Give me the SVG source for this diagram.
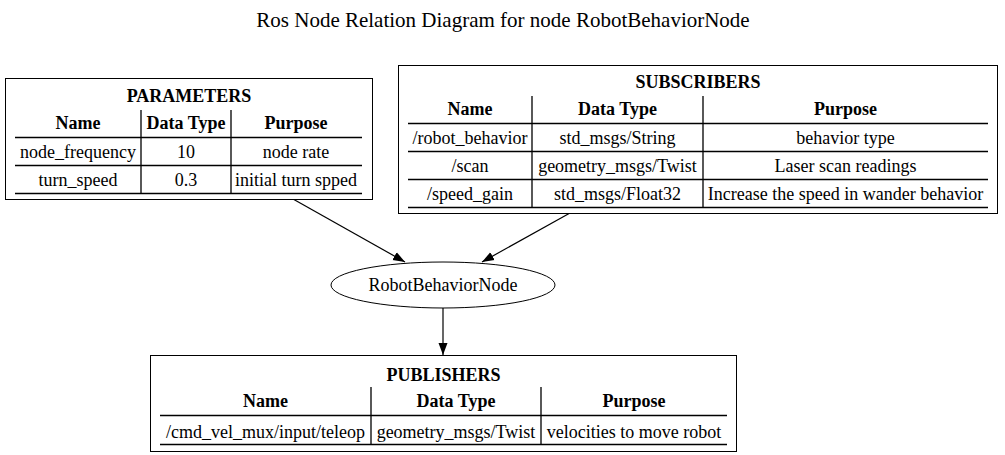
<svg xmlns="http://www.w3.org/2000/svg" width="1005" height="455" viewBox="0 0 1005 455">
<style>
text{font-family:"Liberation Serif","Times New Roman",serif;font-size:18px;fill:#000;text-anchor:middle}
.b{font-weight:bold}
.t{font-size:21px}
.box{fill:#fff;stroke:#000;stroke-width:1}
.ln{stroke:#000;stroke-width:1.3;fill:none}
.edge{stroke:#000;stroke-width:1.2;fill:none}
</style>
<defs>
<marker id="arr" viewBox="0 0 12 10" refX="12" refY="5" markerWidth="12" markerHeight="10" markerUnits="userSpaceOnUse" orient="auto">
<path d="M0,0.5 L12,5 L0,9.5 z" fill="#000"/>
</marker>
</defs>
<rect width="1005" height="455" fill="#fff"/>
<text class="t" x="503" y="27">Ros Node Relation Diagram for node RobotBehaviorNode</text>
<g id="connectors">
<line class="edge" x1="293" y1="199" x2="405" y2="262" marker-end="url(#arr)"/>
<line class="edge" x1="570" y1="213" x2="482" y2="262" marker-end="url(#arr)"/>
<line class="edge" x1="443" y1="308" x2="443" y2="355" marker-end="url(#arr)"/>
</g>
<g id="parameters">
<rect class="box" x="5.5" y="78.5" width="367" height="121"/>
<text class="b" x="189" y="102">PARAMETERS</text>
<text class="b" x="78" y="129">Name</text>
<text class="b" x="186" y="129">Data Type</text>
<text class="b" x="296" y="129">Purpose</text>
<path class="ln" d="M15,137.5H362M15,165.5H362M15,193.5H362M141,110V193M231,110V193"/>
<text x="78" y="158">node_frequency</text>
<text x="186" y="158">10</text>
<text x="296" y="158">node rate</text>
<text x="78" y="186">turn_speed</text>
<text x="186" y="186">0.3</text>
<text x="296" y="186">initial turn spped</text>
</g>
<g id="subscribers">
<rect class="box" x="398.5" y="65.5" width="599" height="148"/>
<text class="b" x="698" y="88">SUBSCRIBERS</text>
<text class="b" x="470" y="115">Name</text>
<text class="b" x="617.5" y="115">Data Type</text>
<text class="b" x="845.5" y="115">Purpose</text>
<path class="ln" d="M408,123.5H988M408,151.5H988M408,179.5H988M408,207.5H988M532,96V207M703,96V207"/>
<text x="470" y="144">/robot_behavior</text>
<text x="617.5" y="144">std_msgs/String</text>
<text x="845.5" y="144">behavior type</text>
<text x="470" y="172">/scan</text>
<text x="617.5" y="172">geometry_msgs/Twist</text>
<text x="845.5" y="172">Laser scan readings</text>
<text x="470" y="200">/speed_gain</text>
<text x="617.5" y="200">std_msgs/Float32</text>
<text x="845.5" y="200">Increase the speed in wander behavior</text>
</g>
<g id="node">
<ellipse cx="443" cy="285" rx="112" ry="23" fill="#fff" stroke="#000"/>
<text x="443" y="291">RobotBehaviorNode</text>
</g>
<g id="publishers">
<rect class="box" x="150.5" y="355.5" width="586" height="96"/>
<text class="b" x="443.5" y="381">PUBLISHERS</text>
<text class="b" x="265.5" y="407">Name</text>
<text class="b" x="456" y="407">Data Type</text>
<text class="b" x="634" y="407">Purpose</text>
<path class="ln" d="M160,415.5H727M160,444.5H727M371,387V444M541,387V444"/>
<text x="265.5" y="438">/cmd_vel_mux/input/teleop</text>
<text x="456" y="438">geometry_msgs/Twist</text>
<text x="634" y="438">velocities to move robot</text>
</g>
</svg>
